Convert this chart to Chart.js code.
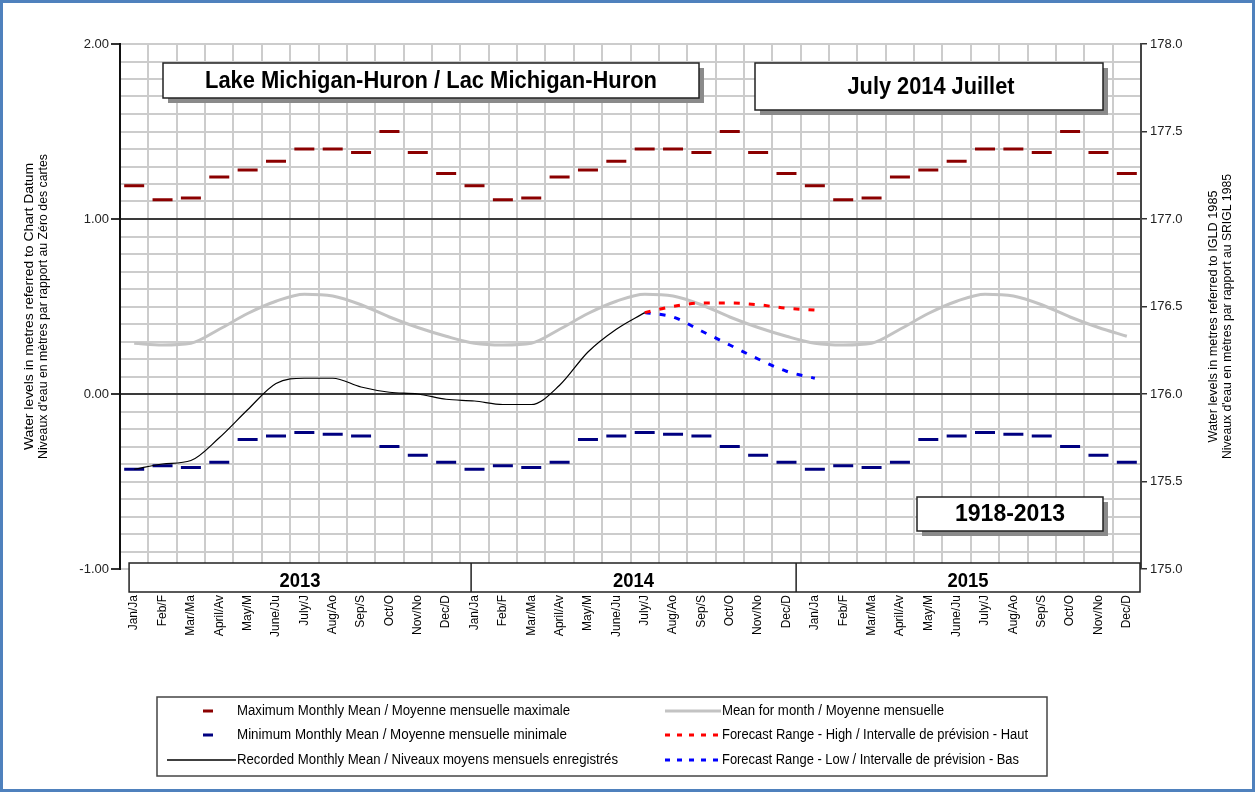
<!DOCTYPE html>
<html>
<head>
<meta charset="utf-8">
<script src="https://cdn.jsdelivr.net/npm/chart.js@4/dist/chart.umd.min.js"></script>
<style>
  html, body { margin: 0; padding: 0; background: #fff; }
  #wrap { width: 1257px; height: 793px; }
</style>
</head>
<body>
<div id="wrap"><canvas id="levelChart" width="1257" height="793"></canvas></div>
<script>
// month labels (clipped bilingual names, as printed on the chart)
const monthLabels = ['Jan/Ja', 'Feb/F', 'Mar/Ma', 'April/Av', 'May/M', 'June/Ju', 'July/J', 'Aug/Ao', 'Sep/S', 'Oct/O', 'Nov/No', 'Dec/D'];
const years = ['2013', '2014', '2015'];

// monthly statistics 1918-2013 (metres above chart datum)
const maxMonthly = [1.19, 1.11, 1.12, 1.24, 1.28, 1.33, 1.40, 1.40, 1.38, 1.50, 1.38, 1.26];
const minMonthly = [-0.43, -0.41, -0.42, -0.39, -0.26, -0.24, -0.22, -0.23, -0.24, -0.30, -0.35, -0.39];
const meanMonthly = [0.29, 0.28, 0.29, 0.37, 0.46, 0.53, 0.57, 0.56, 0.51, 0.44, 0.38, 0.33];

// recorded Jan 2013 .. Jul 2014
const recorded = [-0.43, -0.40, -0.38, -0.25, -0.09, 0.06, 0.09, 0.09, 0.04, 0.01, 0.00, -0.03,
                  -0.04, -0.06, -0.06, 0.05, 0.24, 0.37, 0.465];
// forecast Jul 2014 .. Jan 2015
const forecastStart = 18;
const forecastHigh = [0.465, 0.50, 0.52, 0.52, 0.51, 0.49, 0.48];
const forecastLow = [0.465, 0.44, 0.36, 0.28, 0.20, 0.13, 0.09];

const leftTickLabels = [-1, 0, 1, 2];
const datumOffset = 176.0; // chart datum, IGLD 1985

// build the 36-month series
const labels = [];
years.forEach(() => labels.push(...monthLabels));
const nMonths = labels.length;
const repeatYears = arr => years.flatMap(() => arr);
const pad = (arr, start) => Array.from({ length: nMonths }, (_, i) =>
  (i >= start && i - start < arr.length) ? arr[i - start] : null);

const isMajor = v => leftTickLabels.some(t => Math.abs(t - v) < 1e-6);

// draws text squeezed/stretched to a given width (the original uses a narrow face)
function fitText(ctx, text, x, y, font, width, align) {
  ctx.save();
  ctx.font = font;
  const sx = width / ctx.measureText(text).width;
  ctx.translate(x, y);
  ctx.scale(sx, 1);
  ctx.textAlign = align || 'center';
  ctx.textBaseline = 'middle';
  ctx.fillText(text, 0, 0);
  ctx.restore();
}

function shadowBox(ctx, x, y, w, h) {
  ctx.fillStyle = '#8a8a8a';
  ctx.fillRect(x + 5, y + 5, w, h);
  ctx.fillStyle = '#fff';
  ctx.fillRect(x, y, w, h);
  ctx.strokeStyle = '#222';
  ctx.lineWidth = 1.5;
  ctx.strokeRect(x, y, w, h);
  ctx.fillStyle = '#000';
}

const decor = {
  id: 'decor',
  beforeDraw(chart) {
    const ctx = chart.ctx;
    ctx.save();
    ctx.fillStyle = '#fff';
    ctx.fillRect(0, 0, chart.width, chart.height);
    ctx.restore();
  },
  afterDraw(chart) {
    const ctx = chart.ctx;
    const area = chart.chartArea;
    const xs = chart.scales.x;
    const step = xs.getPixelForValue(1) - xs.getPixelForValue(0);
    const px = i => xs.getPixelForValue(0) + i * step;
    ctx.save();

    // title boxes
    shadowBox(ctx, 163, 63, 536, 35);
    fitText(ctx, 'Lake Michigan-Huron / Lac Michigan-Huron', 431, 82, 'bold 23px "Liberation Sans"', 452);
    shadowBox(ctx, 755, 63, 348, 47);
    fitText(ctx, 'July 2014 Juillet', 931, 88, 'bold 23px "Liberation Sans"', 167);
    shadowBox(ctx, 917, 497, 186, 34);
    fitText(ctx, '1918-2013', 1010, 515, 'bold 23px "Liberation Sans"', 110);

    // year band under the plot
    const bandTop = area.bottom - 6, bandBot = area.bottom + 23;
    const cuts = [px(-0.18), px(11.88), px(23.34), area.right - 1];
    ctx.fillStyle = '#fff';
    ctx.fillRect(cuts[0], bandTop, cuts[3] - cuts[0], bandBot - bandTop);
    ctx.strokeStyle = '#222';
    ctx.lineWidth = 1.5;
    ctx.strokeRect(cuts[0], bandTop, cuts[3] - cuts[0], bandBot - bandTop);
    ctx.beginPath();
    [1, 2].forEach(k => { ctx.moveTo(cuts[k], bandTop); ctx.lineTo(cuts[k], bandBot); });
    ctx.stroke();
    ctx.fillStyle = '#000';
    years.forEach((yr, k) => {
      fitText(ctx, yr, (cuts[k] + cuts[k + 1]) / 2, bandBot - 11, '900 21px "Liberation Sans"', 41);
    });

    // axis titles (both read bottom to top)
    const cy = (area.top + area.bottom) / 2;
    const rotated = (x, y, text, w) => {
      ctx.save();
      ctx.translate(x, y);
      ctx.rotate(-Math.PI / 2);
      fitText(ctx, text, 0, 0, '12px "Liberation Sans"', w);
      ctx.restore();
    };
    rotated(30, cy, 'Water levels in metres referred to Chart Datum', 287);
    rotated(44, cy, "Niveaux d'eau en mètres par rapport au Zéro des cartes", 305);
    rotated(1214, cy + 10, 'Water levels in metres referred to IGLD 1985', 252);
    rotated(1228, cy + 10, "Niveaux d'eau en mètres par rapport au SRIGL 1985", 285);

    // legend
    ctx.fillStyle = '#fff';
    ctx.fillRect(157, 697, 890, 79);
    ctx.strokeStyle = '#444';
    ctx.lineWidth = 1.5;
    ctx.strokeRect(157, 697, 890, 79);
    const rows = [711, 735, 760];
    const ds = chart.data.datasets;
    const sample = (d, x0, x1, y) => {
      ctx.save();
      ctx.strokeStyle = d.borderColor;
      ctx.lineWidth = d.type === 'scatter' ? 3 : Math.max(d.borderWidth, 1.5);
      ctx.setLineDash(d.borderDash ? [5, 7] : []);
      ctx.beginPath();
      ctx.moveTo(x0, y);
      ctx.lineTo(x1, y);
      ctx.stroke();
      ctx.restore();
    };
    const legendItems = [
      { d: ds[0], x0: 203, x1: 213, y: rows[0], tx: 237, text: 'Maximum Monthly Mean / Moyenne mensuelle maximale', w: 333 },
      { d: ds[1], x0: 203, x1: 213, y: rows[1], tx: 237, text: 'Minimum Monthly Mean / Moyenne mensuelle minimale', w: 330 },
      { d: ds[5], x0: 167, x1: 236, y: rows[2], tx: 237, text: 'Recorded Monthly Mean / Niveaux moyens mensuels enregistrés', w: 381 },
      { d: ds[2], x0: 665, x1: 721, y: rows[0], tx: 722, text: 'Mean for month / Moyenne mensuelle', w: 222 },
      { d: ds[3], x0: 665, x1: 721, y: rows[1], tx: 722, text: 'Forecast Range - High / Intervalle de prévision - Haut', w: 306 },
      { d: ds[4], x0: 665, x1: 721, y: rows[2], tx: 722, text: 'Forecast Range - Low / Intervalle de prévision - Bas', w: 297 }
    ];
    legendItems.forEach(it => {
      sample(it.d, it.x0, it.x1, it.y);
      ctx.fillStyle = '#000';
      fitText(ctx, it.text, it.tx, it.y, '14px "Liberation Sans"', it.w, 'left');
    });

    // page frame
    ctx.strokeStyle = '#4f81bd';
    ctx.lineWidth = 3;
    ctx.strokeRect(1.5, 1.5, chart.width - 5, chart.height - 4);
    ctx.restore();
  }
};

const ctx = document.getElementById('levelChart').getContext('2d');
new Chart(ctx, {
  type: 'line',
  data: {
    labels: labels,
    datasets: [
      {
        type: 'scatter', label: 'Maximum Monthly Mean', data: repeatYears(maxMonthly),
        showLine: false, pointStyle: 'line', pointRadius: 10, pointBorderWidth: 3,
        borderColor: '#8b0000', pointBorderColor: '#8b0000', order: 2
      },
      {
        type: 'scatter', label: 'Minimum Monthly Mean', data: repeatYears(minMonthly),
        showLine: false, pointStyle: 'line', pointRadius: 10, pointBorderWidth: 3,
        borderColor: '#000080', pointBorderColor: '#000080', order: 2
      },
      {
        label: 'Mean for month', data: repeatYears(meanMonthly),
        borderColor: '#c3c3c3', borderWidth: 3, pointRadius: 0,
        cubicInterpolationMode: 'monotone', order: 5
      },
      {
        label: 'Forecast Range - High', data: pad(forecastHigh, forecastStart),
        borderColor: '#ff0000', borderWidth: 3, borderDash: [6, 9], pointRadius: 0,
        cubicInterpolationMode: 'monotone', order: 3
      },
      {
        label: 'Forecast Range - Low', data: pad(forecastLow, forecastStart),
        borderColor: '#0000ff', borderWidth: 3, borderDash: [6, 9], pointRadius: 0,
        cubicInterpolationMode: 'monotone', order: 3
      },
      {
        label: 'Recorded Monthly Mean', data: pad(recorded, 0),
        borderColor: '#000000', borderWidth: 1.2, pointRadius: 0,
        cubicInterpolationMode: 'monotone', order: 1
      }
    ]
  },
  options: {
    responsive: false,
    animation: false,
    devicePixelRatio: 1,
    layout: { padding: { top: 44, left: 0, right: 0, bottom: 0 } },
    plugins: {
      legend: { display: false },
      tooltip: { enabled: false }
    },
    scales: {
      x: {
        type: 'category',
        offset: true,
        grid: { offset: true, color: '#cccccc', lineWidth: 2, drawTicks: false },
        border: { display: false },
        ticks: {
          autoSkip: false, minRotation: 90, maxRotation: 90, padding: 26,
          color: '#000', font: { family: 'Liberation Sans', size: 12 }
        },
        afterFit: s => { s.height = 224; }
      },
      y: {
        position: 'left',
        min: -1, max: 2,
        grid: {
          color: c => (c.tick && (Math.abs(c.tick.value) < 1e-6 || Math.abs(c.tick.value - 1) < 1e-6)) ? '#3a3a3a' : '#cccccc',
          lineWidth: 2,
          tickLength: 9,
          tickColor: c => (c.tick && isMajor(c.tick.value)) ? '#333' : 'rgba(0,0,0,0)'
        },
        border: { color: '#111', width: 2 },
        ticks: {
          stepSize: 0.1, autoSkip: false, padding: 2,
          color: '#222', font: { family: 'Liberation Sans', size: 13 },
          callback: v => isMajor(v) ? Number(v).toFixed(2) : ''
        },
        afterFit: s => { s.width = 120; }
      },
      y2: {
        position: 'right',
        min: -1 + datumOffset, max: 2 + datumOffset,
        grid: { drawOnChartArea: false, tickLength: 6, tickColor: '#333', lineWidth: 1.5 },
        border: { color: '#444', width: 2 },
        ticks: {
          stepSize: 0.5, padding: 3,
          color: '#222', font: { family: 'Liberation Sans', size: 13 },
          callback: v => Number(v).toFixed(1)
        },
        afterFit: s => { s.width = 116; }
      }
    }
  },
  plugins: [decor]
});
</script>
</body>
</html>
